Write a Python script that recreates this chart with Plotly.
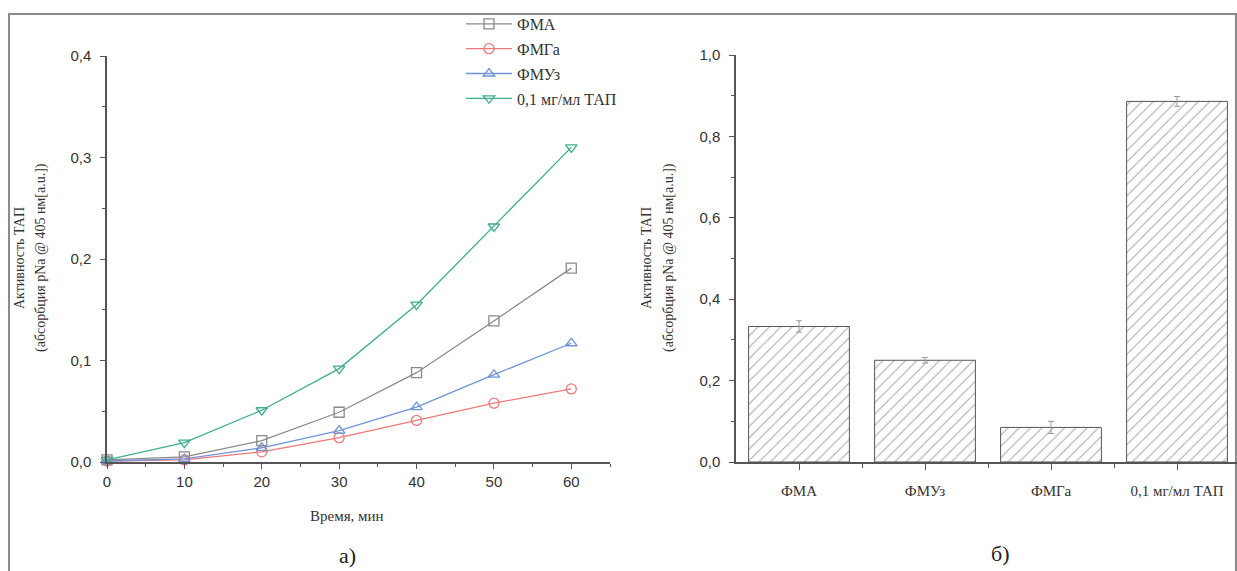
import plotly.graph_objects as go

W, H = 1237, 571

# ---------------- data ----------------
time_min = [0, 10, 20, 30, 40, 50, 60]
fma = [0.002, 0.005, 0.021, 0.049, 0.088, 0.139, 0.191]
fmga = [0.001, 0.002, 0.010, 0.024, 0.041, 0.058, 0.072]
fmuz = [0.001, 0.003, 0.014, 0.031, 0.054, 0.086, 0.117]
tap = [0.002, 0.019, 0.051, 0.092, 0.155, 0.232, 0.310]

line_names = ["ФМА", "ФМГа", "ФМУз", "0,1 мг/мл ТАП"]

bar_categories = ["ФМА", "ФМУз", "ФМГа", "0,1 мг/мл ТАП"]
bar_values = [0.333, 0.250, 0.085, 0.886]
bar_errors = [0.014, 0.007, 0.015, 0.012]

ytitle_lines = ["Активность ТАП", "(абсорбция pNa @ 405 нм[a.u.])"]

# ---------------- helpers (screen px -> paper) ----------------
def px_x(p):
    return p / W

def px_y(p):
    return 1 - p / H

SERIF = "Liberation Serif, Times New Roman, serif"
SANS = "Liberation Sans, Arial, sans-serif"
AX = "#555555"

fig = go.Figure()

styles = [
    ("#8a8a8a", "square-open"),
    ("#f07878", "circle-open"),
    ("#6f93d6", "triangle-up-open"),
    ("#3daf8a", "triangle-down-open"),
]
for i, (ys, name) in enumerate(zip([fma, fmga, fmuz, tap], line_names)):
    col, sym = styles[i]
    fig.add_trace(go.Scatter(
        x=time_min, y=ys, name=name, mode="lines+markers",
        line=dict(color=col, width=1.3),
        marker=dict(symbol=sym, size=10, color=col, line=dict(width=1.3, color=col)),
        cliponaxis=False, legendgroup=f"g{i}",
        xaxis="x", yaxis="y",
    ))

fig.add_trace(go.Bar(
    x=list(range(len(bar_categories))), y=bar_values,
    width=0.8, showlegend=False,
    marker=dict(color="white", line=dict(color="#555555", width=1),
                pattern=dict(shape="/", fgcolor="#555555", bgcolor="white",
                             size=8, solidity=0.14)),
    error_y=dict(type="data", array=bar_errors, color="#999999", thickness=1, width=3),
    xaxis="x2", yaxis="y2",
))

tickfont = dict(family=SANS, size=15, color="#333333")

fig.update_layout(
    width=W, height=H, autosize=False,
    margin=dict(l=0, r=0, t=0, b=0),
    paper_bgcolor="white", plot_bgcolor="white",
    separators=",.",
    showlegend=True,
    legend=dict(x=px_x(461), y=px_y(7), xanchor="left", yanchor="top",
                font=dict(family=SERIF, size=16, color="#333333"),
                bgcolor="rgba(0,0,0,0)", tracegroupgap=1, itemwidth=46),
    xaxis=dict(domain=[px_x(107), px_x(610)], range=[0, 65],
               tickvals=[0, 10, 20, 30, 40, 50, 60],
               ticks="outside", ticklen=5, tickwidth=1.3, tickcolor=AX,
               minor=dict(ticks="outside", ticklen=3, tickvals=[5, 15, 25, 35, 45, 55, 65], tickcolor=AX),
               showline=True, linecolor=AX, linewidth=1.5, showgrid=False, zeroline=False,
               tickfont=tickfont, anchor="y", automargin=False),
    yaxis=dict(domain=[px_y(462), px_y(56)], range=[0, 0.4],
               tickvals=[0, 0.1, 0.2, 0.3, 0.4], tickformat=".1f",
               ticks="outside", ticklen=5, tickwidth=1.3, tickcolor=AX,
               ticklabelstandoff=6,
               minor=dict(ticks="outside", ticklen=3, tickvals=[0.05, 0.15, 0.25, 0.35], tickcolor=AX),
               showline=True, linecolor=AX, linewidth=1.5, showgrid=False, zeroline=False,
               tickfont=tickfont, anchor="x", automargin=False),
    xaxis2=dict(domain=[px_x(736), 1.0], range=[-0.5, -0.5 + (1237 - 736) / 126],
                tickvals=list(range(len(bar_categories))), ticktext=bar_categories,
                ticks="outside", ticklen=6, tickwidth=1.3, tickcolor=AX,
                ticklabelstandoff=8,
                minor=dict(ticks="outside", ticklen=4, tickvals=[0.5, 1.5, 2.5], tickcolor=AX),
                showline=True, linecolor=AX, linewidth=1.8, showgrid=False, zeroline=False,
                tickfont=dict(family=SERIF, size=15, color="#333333"),
                anchor="y2", automargin=False),
    yaxis2=dict(domain=[px_y(462), px_y(55)], range=[0, 1.0],
                tickvals=[0, 0.2, 0.4, 0.6, 0.8, 1.0], tickformat=".1f",
                ticks="outside", ticklen=5, tickwidth=1.3, tickcolor=AX,
                ticklabelstandoff=6,
                minor=dict(ticks="outside", ticklen=3, tickvals=[0.1, 0.3, 0.5, 0.7, 0.9], tickcolor=AX),
                showline=True, linecolor=AX, linewidth=1.5, showgrid=False, zeroline=False,
                tickfont=tickfont, anchor="x2", automargin=False),
)

def label(xp, yp, text, font, angle=0):
    fig.add_annotation(xref="paper", yref="paper", x=px_x(xp), y=px_y(yp),
                       xanchor="center", yanchor="middle",
                       text=text, textangle=angle, showarrow=False, font=font)

ann_font = dict(family=SERIF, size=14, color="#333333")
for xs in ([19, 41], [646, 669]):
    for xp, line in zip(xs, ytitle_lines):
        label(xp, 258, line, ann_font, angle=-90)
label(347, 516, "Время, мин", dict(family=SERIF, size=15, color="#333333"))
label(347, 555, "а)", dict(family=SERIF, size=22, color="#222222"))
label(1000, 553, "б)", dict(family=SERIF, size=22, color="#222222"))

# outer frame
fig.add_shape(type="rect", xref="paper", yref="paper",
              x0=px_x(9), x1=px_x(1236), y0=px_y(620), y1=px_y(14),
              line=dict(color="#8a8a8a", width=2), fillcolor="rgba(0,0,0,0)", layer="below")

# remove the default 8px page margin so the figure fills the window exactly
fig.write_html("out.html", config={"displayModeBar": False},
               post_script="document.body.style.margin='0';document.body.style.overflow='hidden';")
